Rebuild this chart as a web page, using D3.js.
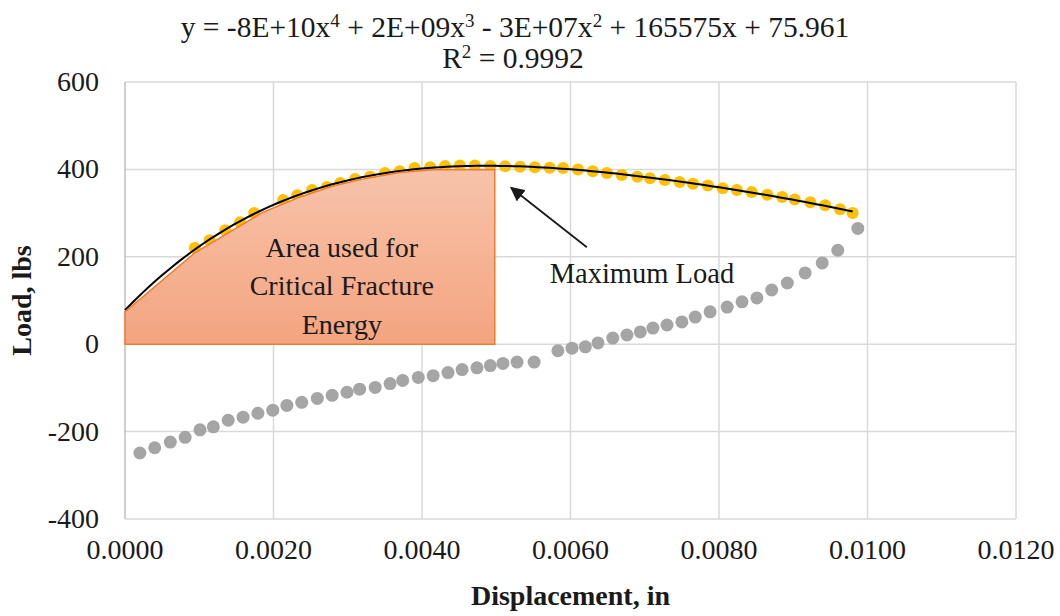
<!DOCTYPE html>
<html>
<head>
<meta charset="utf-8">
<script src="https://cdn.jsdelivr.net/npm/d3@7"></script>
<style>
  html, body { margin: 0; padding: 0; background: #fff; }
  svg text { font-family: "Liberation Serif", "Times New Roman", Times, "DejaVu Serif", serif; fill: #1a1a1a; }
</style>
</head>
<body>
<div id="chart"></div>
<script>
// Loading branch (yellow) - displacement (in) / load (lbs)
const loadX = [0.00094, 0.00114, 0.00135, 0.00155, 0.00174, 0.00213, 0.00232, 0.00252, 0.00272, 0.00290,
               0.00310, 0.00330, 0.00350, 0.00370, 0.00390, 0.00411, 0.00431, 0.00451, 0.00471, 0.00492,
               0.00512, 0.00532, 0.00552, 0.00572, 0.00590, 0.00610, 0.00630, 0.00649, 0.00669, 0.00690,
               0.00707, 0.00727, 0.00747, 0.00765, 0.00785, 0.00805, 0.00824, 0.00844, 0.00865, 0.00885,
               0.00902, 0.00923, 0.00943, 0.00963, 0.00980];
const loadY = [220, 238, 261, 279, 300, 330, 341, 353, 360, 369,
               378, 383, 392, 396, 403, 405, 408, 409, 409, 408,
               407, 406, 405, 404, 403, 400, 396, 392, 387, 383,
               380, 376, 371, 367, 363, 357, 353, 348, 342, 337,
               331, 325, 318, 309, 300];

// Second branch (grey)
const greyX = [0.00020, 0.00040, 0.00061, 0.00081, 0.00101, 0.00119, 0.00139, 0.00159, 0.00179, 0.00199,
               0.00218, 0.00238, 0.00259, 0.00279, 0.00299, 0.00316, 0.00337, 0.00357, 0.00374, 0.00395,
               0.00415, 0.00435, 0.00454, 0.00474, 0.00492, 0.00509, 0.00528, 0.00551, 0.00583, 0.00602,
               0.00620, 0.00637, 0.00657, 0.00676, 0.00694, 0.00711, 0.00730, 0.00750, 0.00768, 0.00788,
               0.00811, 0.00831, 0.00851, 0.00871, 0.00892, 0.00916, 0.00939, 0.00960, 0.00987];
const greyY = [-249, -237, -224, -213, -196, -189, -174, -167, -158, -151,
               -140, -133, -124, -117, -110, -103, -99, -90, -83, -76,
               -72, -65, -58, -54, -49, -44, -41, -41, -15, -9,
               -6, 3, 14, 21, 28, 37, 44, 51, 62, 74,
               85, 97, 106, 124, 140, 163, 186, 215, 265];

// hand drawn "area used" shape, outline in data units
const areaX = [0, 0, 0.00094, 0.00186, 0.00236, 0.00280, 0.00326, 0.00370, 0.00415, 0.00498, 0.00498];
const areaY = [0, 74, 209, 302, 337, 362, 380, 393, 399, 400, 0];
const areaLabel = ['Area used for', 'Critical Fracture', 'Energy'];

const xTicks = [0, 0.002, 0.004, 0.006, 0.008, 0.010, 0.012];
const yTicks = [-400, -200, 0, 200, 400, 600];

// title pieces, odd entries are superscripts
const equationParts = ['y = -8E+10x', '4', ' + 2E+09x', '3', ' - 3E+07x', '2', ' + 165575x + 75.961'];
const rSquaredParts = ['R', '2', ' = 0.9992'];

const width = 1060, height = 616;
const plot = { left: 125, right: 1016, top: 82, bottom: 519 };

const svg = d3.select('#chart').append('svg')
    .attr('width', width)
    .attr('height', height);

const defs = svg.append('defs');
const grad = defs.append('linearGradient')
    .attr('id', 'areaFill')
    .attr('x1', 0).attr('y1', 0).attr('x2', 0).attr('y2', 1);
grad.append('stop').attr('offset', '0%').attr('stop-color', '#F7C3AA');
grad.append('stop').attr('offset', '100%').attr('stop-color', '#F4A47F');

defs.append('marker')
    .attr('id', 'arrowHead')
    .attr('viewBox', '0 0 10 10')
    .attr('refX', 9).attr('refY', 5)
    .attr('markerWidth', 8).attr('markerHeight', 8)
    .attr('markerUnits', 'strokeWidth')
    .attr('orient', 'auto')
  .append('path')
    .attr('d', 'M0,0 L10,5 L0,10 z')
    .attr('fill', '#1a1a1a');

const x = d3.scaleLinear().domain([0, 0.012]).range([plot.left, plot.right]);
const y = d3.scaleLinear().domain([-400, 600]).range([plot.bottom, plot.top]);

const serif = '"Liberation Serif", "Times New Roman", Times, "DejaVu Serif", serif';

// Gridlines
svg.append('g')
    .selectAll('line')
    .data(yTicks)
    .enter().append('line')
    .attr('x1', plot.left).attr('x2', plot.right)
    .attr('y1', d => y(d)).attr('y2', d => y(d))
    .attr('stroke', '#D9D9D9')
    .attr('stroke-width', 1.5);

svg.append('g')
    .selectAll('line')
    .data(xTicks)
    .enter().append('line')
    .attr('x1', d => x(d)).attr('x2', d => x(d))
    .attr('y1', plot.top).attr('y2', plot.bottom)
    .attr('stroke', d => d === 0 ? '#BFBFBF' : '#D9D9D9')
    .attr('stroke-width', 1.5);

// Tick labels
svg.append('g')
    .selectAll('text')
    .data(xTicks)
    .enter().append('text')
    .attr('x', d => x(d))
    .attr('y', 559)
    .attr('text-anchor', 'middle')
    .attr('font-family', serif)
    .attr('font-size', '28px')
    .text(d => d3.format('.4f')(d));

svg.append('g')
    .selectAll('text')
    .data(yTicks)
    .enter().append('text')
    .attr('x', 99)
    .attr('y', d => y(d) + 9)
    .attr('text-anchor', 'end')
    .attr('font-family', serif)
    .attr('font-size', '28px')
    .text(d => d);

// Grey series
svg.append('g')
    .selectAll('circle')
    .data(greyX.map((d, i) => [d, greyY[i]]))
    .enter().append('circle')
    .attr('cx', d => x(d[0]))
    .attr('cy', d => y(d[1]))
    .attr('r', 6.5)
    .attr('fill', '#A5A5A5');

// Yellow series
svg.append('g')
    .selectAll('circle')
    .data(loadX.map((d, i) => [d, loadY[i]]))
    .enter().append('circle')
    .attr('cx', d => x(d[0]))
    .attr('cy', d => y(d[1]))
    .attr('r', 6)
    .attr('fill', '#FFC000');

// 4th order polynomial trendline, least squares on the yellow points
function polyFit(xs, ys, deg) {
    const n = deg + 1;
    const A = Array.from({ length: n }, () => new Array(n + 1).fill(0));
    xs.forEach((xv, k) => {
        const u = xv * 1000;
        for (let i = 0; i < n; i++) {
            for (let j = 0; j < n; j++) A[i][j] += Math.pow(u, i + j);
            A[i][n] += Math.pow(u, i) * ys[k];
        }
    });
    for (let c = 0; c < n; c++) {
        let p = c;
        for (let r = c + 1; r < n; r++) if (Math.abs(A[r][c]) > Math.abs(A[p][c])) p = r;
        [A[c], A[p]] = [A[p], A[c]];
        for (let r = 0; r < n; r++) {
            if (r === c) continue;
            const f = A[r][c] / A[c][c];
            for (let k = c; k <= n; k++) A[r][k] -= f * A[c][k];
        }
    }
    return A.map((row, i) => row[n] / row[i]);
}

const coef = polyFit(loadX, loadY, 4);
const trend = xv => coef.reduce((s, c, i) => s + c * Math.pow(xv * 1000, i), 0);
const trendPts = d3.range(0, d3.max(loadX) + 1e-9, d3.max(loadX) / 120).map(xv => [xv, trend(xv)]);

svg.append('path')
    .datum(trendPts)
    .attr('d', d3.line().x(d => x(d[0])).y(d => y(d[1])))
    .attr('fill', 'none')
    .attr('stroke', '#000')
    .attr('stroke-width', 2);

// Shaded area shape
svg.append('path')
    .datum(areaX.map((d, i) => [d, areaY[i]]))
    .attr('d', d3.line().x(d => x(d[0])).y(d => y(d[1])).curve(d3.curveLinearClosed))
    .attr('fill', 'url(#areaFill)')
    .attr('stroke', '#ED7D31')
    .attr('stroke-width', 1.5);

const areaText = svg.append('text')
    .attr('text-anchor', 'middle')
    .attr('font-family', serif)
    .attr('font-size', '28px');
areaLabel.forEach((line, i) => {
    areaText.append('tspan')
        .attr('x', x(0.00292))
        .attr('y', y(200) + i * 38.5)
        .text(line);
});

// Maximum load callout
svg.append('line')
    .attr('x1', x(0.00622)).attr('y1', y(222))
    .attr('x2', x(0.00520)).attr('y2', y(358))
    .attr('stroke', '#1a1a1a')
    .attr('stroke-width', 1.8)
    .attr('marker-end', 'url(#arrowHead)');

svg.append('text')
    .attr('x', x(0.00572))
    .attr('y', y(140))
    .attr('font-family', serif)
    .attr('font-size', '28.5px')
    .text('Maximum Load');

// Title (trendline equation)
function superText(parts, cx, cy) {
    const t = svg.append('text')
        .attr('x', cx).attr('y', cy)
        .attr('text-anchor', 'middle')
        .attr('font-family', serif)
        .attr('font-size', '29.5px')
        .style('white-space', 'pre');
    parts.forEach((p, i) => {
        const sup = i % 2 === 1;
        const ts = t.append('tspan').text(p);
        if (sup) ts.attr('font-size', '19px').attr('dy', -10);
        else if (i > 0) ts.attr('dy', 10);
    });
}
superText(equationParts, 515, 37);
superText(rSquaredParts, 513, 68);

// Axis titles
svg.append('text')
    .attr('x', (plot.left + plot.right) / 2)
    .attr('y', 605)
    .attr('text-anchor', 'middle')
    .attr('font-family', serif)
    .attr('font-size', '28px')
    .attr('font-weight', 'bold')
    .text('Displacement, in');

svg.append('text')
    .attr('transform', `translate(31,${(plot.top + plot.bottom) / 2}) rotate(-90)`)
    .attr('text-anchor', 'middle')
    .attr('font-family', serif)
    .attr('font-size', '28px')
    .attr('font-weight', 'bold')
    .text('Load, lbs');
</script>
</body>
</html>
